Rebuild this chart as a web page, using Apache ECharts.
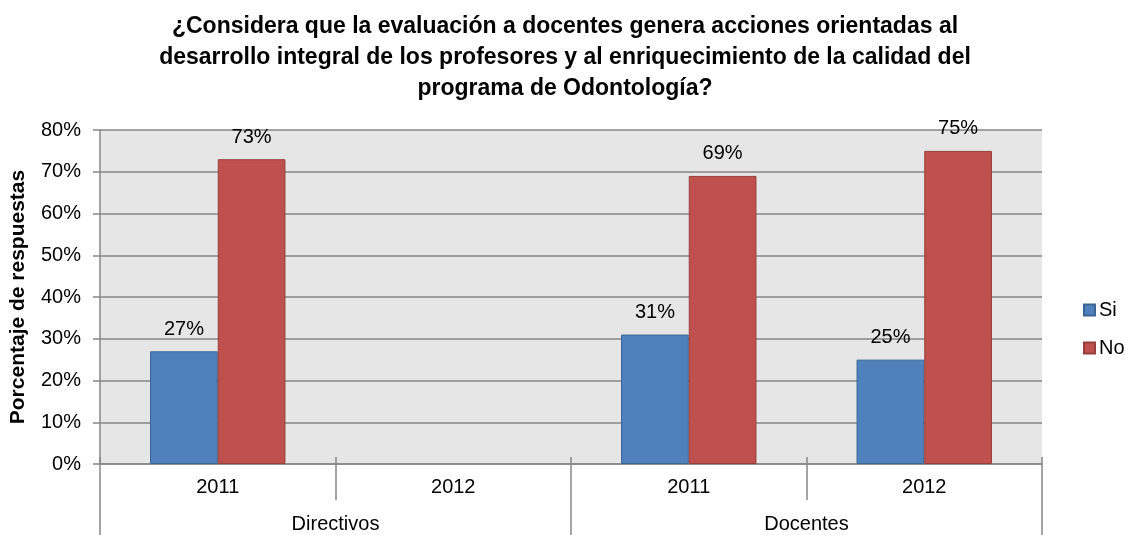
<!DOCTYPE html>
<html>
<head>
<meta charset="utf-8">
<script src="https://cdn.jsdelivr.net/npm/echarts@6/dist/echarts.min.js"></script>
<style>
  html, body { margin: 0; padding: 0; background: #fff; }
  #chart { width: 1126px; height: 535px; }
</style>
</head>
<body>
<div id="chart"></div>
<script>
const years = ["2011", "2012", "2011", "2012"];
const groups = ["Directivos", "Docentes"];
const siValues = [27, null, 31, 25];
const noValues = [73, null, 69, 75];
const yTicks = [0, 10, 20, 30, 40, 50, 60, 70, 80];

const chart = echarts.init(document.getElementById("chart"));
const font = "Liberation Sans, Arial, sans-serif";
const gray = "#868686";

const options = {
  animation: false,
  textStyle: { fontFamily: font },
  title: {
    text: "¿Considera que la evaluación a docentes genera acciones orientadas al\ndesarrollo integral de los profesores y al enriquecimiento de la calidad del\nprograma de Odontología?",
    left: 560,
    top: 6,
    textAlign: "center",
    textStyle: { fontSize: 23, fontWeight: "bold", color: "#000", lineHeight: 31, fontFamily: font },
  },
  legend: {
    orient: "vertical",
    left: 1078,
    top: 295,
    itemWidth: 11,
    itemHeight: 11,
    itemGap: 18,
    icon: "rect",
    textStyle: { fontSize: 20, color: "#000", padding: [0, 0, 0, -1] },
    data: ["Si", "No"],
  },
  grid: {
    left: 100,
    right: 84,
    top: 130,
    bottom: 71,
    show: true,
    backgroundColor: "#E6E6E6",
    borderWidth: 0,
  },
  xAxis: [
    {
      type: "category",
      data: years,
      position: "bottom",
      axisLine: { show: true, lineStyle: { color: gray, width: 1.5 } },
      axisTick: { show: true, interval: 0, length: 36, lineStyle: { color: gray, width: 1.5 } },
      axisLabel: { interval: 0, margin: 13, fontSize: 20, color: "#000" },
    },
    {
      type: "category",
      data: groups,
      position: "bottom",
      axisLine: { show: false },
      axisTick: { show: true, interval: 0, length: 71, lineStyle: { color: gray, width: 1.5 } },
      axisLabel: { interval: 0, margin: 50, fontSize: 20, color: "#000" },
    },
    {
      type: "category",
      data: years,
      position: "bottom",
      axisLine: { show: false },
      axisTick: { show: true, inside: true, interval: 0, length: 7, lineStyle: { color: gray, width: 1.5 } },
      axisLabel: { show: false },
    },
  ],
  yAxis: {
    type: "value",
    min: 0,
    max: 80,
    interval: 10,
    name: "Porcentaje de respuestas",
    nameLocation: "middle",
    nameGap: 71,
    nameTextStyle: { fontSize: 21, fontWeight: "bold", color: "#000" },
    axisLine: { show: true, lineStyle: { color: gray, width: 1.5 } },
    axisTick: { show: true, length: 7, lineStyle: { color: gray, width: 1.5 } },
    splitLine: { show: true, lineStyle: { color: gray, width: 1.5 } },
    axisLabel: { fontSize: 20, color: "#000", margin: 19, formatter: (v) => (yTicks.includes(v) ? v + "%" : "") },
  },
  series: [
    {
      name: "Si",
      type: "bar",
      xAxisIndex: 0,
      data: siValues,
      barGap: "0%",
      barCategoryGap: "42.5%",
      itemStyle: { color: "#4F81BD", borderColor: "#3B6595", borderWidth: 1 },
      label: { show: true, position: "top", distance: 12, formatter: "{c}%", fontSize: 20, color: "#000" },
    },
    {
      name: "No",
      type: "bar",
      xAxisIndex: 0,
      data: noValues,
      barGap: "0%",
      barCategoryGap: "42.5%",
      itemStyle: { color: "#C0504D", borderColor: "#963E3C", borderWidth: 1 },
      label: { show: true, position: "top", distance: 12, formatter: "{c}%", fontSize: 20, color: "#000" },
    },
  ],
};

chart.setOption(options);
</script>
</body>
</html>
